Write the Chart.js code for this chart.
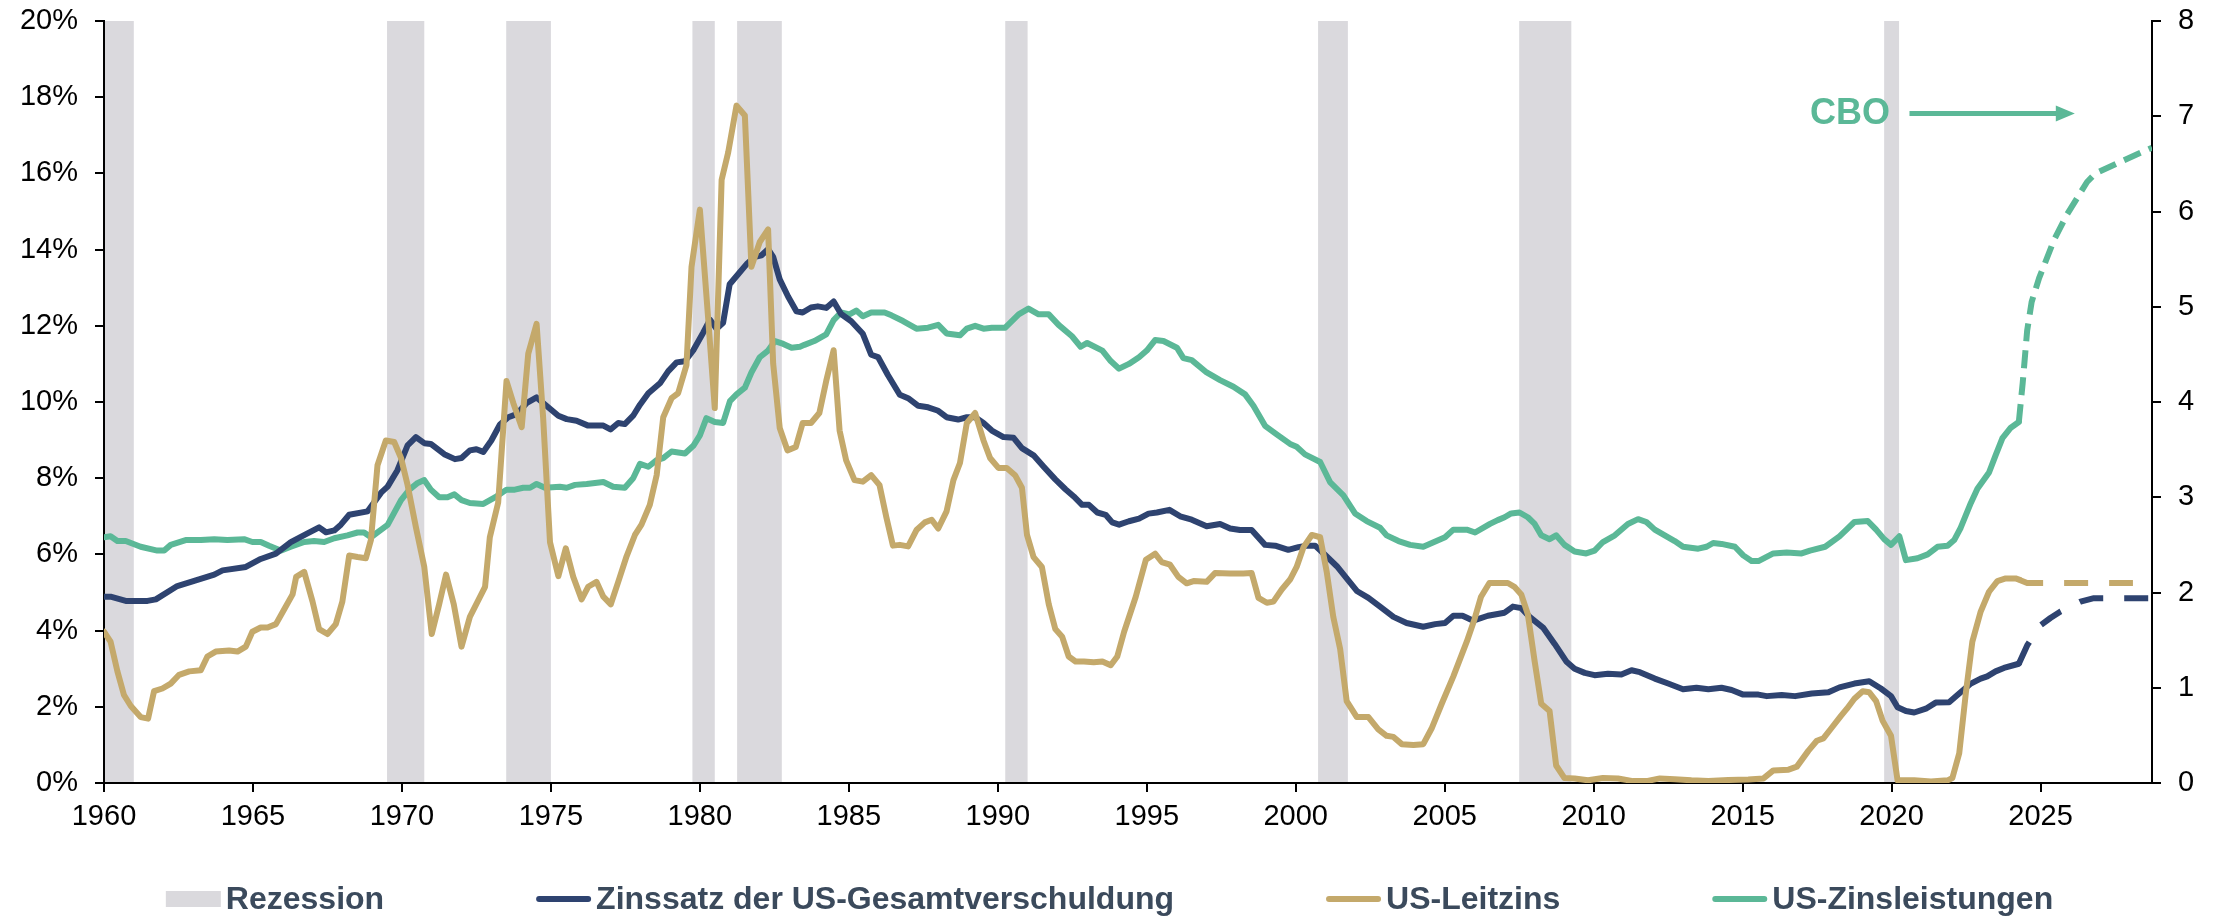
<!DOCTYPE html>
<html>
<head>
<meta charset="utf-8">
<script src="https://cdn.jsdelivr.net/npm/chart.js@4"></script>
<style>
html,body{margin:0;padding:0;background:#fff;}
#wrap{width:2219px;height:917px;position:relative;}
</style>
</head>
<body>
<div id="wrap"><canvas id="c" width="2219" height="917"></canvas></div>
<script>
// ---------- DATA ----------
const xTickYears = [1960,1965,1970,1975,1980,1985,1990,1995,2000,2005,2010,2015,2020,2025];

const recessionStart = [1960.00,1969.50,1973.50,1979.75,1981.25,1990.25,2000.75,2007.50,2019.75];
const recessionEnd   = [1961.00,1970.75,1975.00,1980.50,1982.75,1991.00,2001.75,2009.25,2020.25];

// Zinssatz der US-Gesamtverschuldung (%, left axis) [year, value]
const debtRateHist = [[1960.00,4.89],[1960.22,4.89],[1960.73,4.78],[1961.46,4.78],[1961.74,4.82],[1962.46,5.17],[1963.00,5.30],[1963.70,5.47],[1963.98,5.58],[1964.76,5.67],[1965.26,5.88],[1965.77,6.02],[1966.27,6.32],[1966.83,6.55],[1967.22,6.71],[1967.45,6.58],[1967.73,6.63],[1967.95,6.78],[1968.23,7.04],[1968.85,7.13],[1969.30,7.62],[1969.52,7.78],[1969.85,8.21],[1970.19,8.86],[1970.47,9.08],[1970.75,8.92],[1970.97,8.90],[1971.42,8.63],[1971.78,8.50],[1972.00,8.53],[1972.28,8.73],[1972.50,8.76],[1972.73,8.69],[1973.00,8.99],[1973.29,9.41],[1973.57,9.60],[1973.85,9.68],[1974.18,9.97],[1974.52,10.12],[1974.85,9.90],[1975.25,9.64],[1975.53,9.55],[1975.86,9.51],[1976.25,9.38],[1976.53,9.38],[1976.76,9.38],[1977.00,9.28],[1977.26,9.45],[1977.48,9.42],[1977.76,9.64],[1977.99,9.93],[1978.27,10.23],[1978.66,10.49],[1978.94,10.81],[1979.22,11.04],[1979.50,11.07],[1979.78,11.36],[1980.11,11.82],[1980.34,12.16],[1980.56,11.92],[1980.78,12.08],[1981.00,13.09],[1981.29,13.36],[1981.57,13.62],[1981.85,13.81],[1982.07,13.85],[1982.29,14.01],[1982.46,13.81],[1982.68,13.22],[1982.96,12.77],[1983.24,12.38],[1983.45,12.35],[1983.73,12.48],[1983.96,12.51],[1984.24,12.47],[1984.49,12.64],[1984.74,12.31],[1985.08,12.12],[1985.47,11.79],[1985.75,11.24],[1985.98,11.18],[1986.31,10.71],[1986.71,10.19],[1986.99,10.10],[1987.33,9.90],[1987.66,9.86],[1988.00,9.77],[1988.28,9.60],[1988.67,9.54],[1988.96,9.60],[1989.24,9.60],[1989.52,9.45],[1989.80,9.25],[1990.19,9.08],[1990.53,9.06],[1990.81,8.79],[1991.20,8.60],[1991.54,8.30],[1991.93,7.97],[1992.27,7.71],[1992.55,7.52],[1992.83,7.30],[1993.06,7.30],[1993.34,7.10],[1993.62,7.04],[1993.84,6.84],[1994.07,6.78],[1994.40,6.87],[1994.74,6.94],[1995.06,7.07],[1995.34,7.10],[1995.76,7.17],[1996.12,7.00],[1996.51,6.91],[1997.01,6.74],[1997.46,6.80],[1997.80,6.68],[1998.13,6.64],[1998.52,6.64],[1998.97,6.25],[1999.31,6.23],[1999.75,6.12],[2000.09,6.19],[2000.37,6.23],[2000.65,6.23],[2000.98,5.99],[2001.38,5.69],[2001.71,5.37],[2002.05,5.04],[2002.44,4.86],[2002.83,4.63],[2003.28,4.36],[2003.72,4.20],[2004.28,4.10],[2004.68,4.17],[2005.01,4.20],[2005.29,4.39],[2005.60,4.39],[2005.96,4.26],[2006.45,4.39],[2007.01,4.47],[2007.29,4.63],[2007.57,4.59],[2007.85,4.36],[2008.30,4.08],[2008.69,3.65],[2009.08,3.19],[2009.36,3.00],[2009.70,2.89],[2010.03,2.83],[2010.48,2.87],[2010.93,2.85],[2011.27,2.96],[2011.55,2.91],[2012.05,2.74],[2012.50,2.61],[2013.00,2.46],[2013.45,2.50],[2013.85,2.46],[2014.29,2.50],[2014.63,2.44],[2015.02,2.32],[2015.53,2.32],[2015.81,2.28],[2016.31,2.31],[2016.76,2.28],[2017.32,2.35],[2017.88,2.38],[2018.25,2.51],[2018.75,2.61],[2019.25,2.67],[2019.64,2.48],[2019.98,2.28],[2020.20,1.99],[2020.48,1.89],[2020.76,1.85],[2021.15,1.95],[2021.48,2.11],[2021.93,2.12],[2022.21,2.31],[2022.66,2.61],[2022.99,2.74],[2023.21,2.80],[2023.49,2.93],[2023.77,3.02],[2024.27,3.13]];
const debtRateForecast = [[2024.27,3.13],[2024.55,3.61],[2025.00,4.14],[2025.33,4.33],[2025.67,4.50],[2026.34,4.76],[2026.79,4.85],[2028.74,4.85]];

// US-Leitzins (%, left axis)
const policyRateHist = [[1960.00,3.97],[1960.22,3.71],[1960.45,2.93],[1960.67,2.31],[1960.90,2.02],[1961.23,1.73],[1961.48,1.69],[1961.68,2.41],[1961.96,2.48],[1962.24,2.61],[1962.52,2.84],[1962.86,2.93],[1963.25,2.96],[1963.47,3.32],[1963.75,3.45],[1964.20,3.48],[1964.48,3.45],[1964.76,3.58],[1964.98,3.97],[1965.26,4.08],[1965.49,4.08],[1965.77,4.17],[1966.05,4.56],[1966.33,4.95],[1966.45,5.41],[1966.72,5.54],[1967.00,4.76],[1967.22,4.04],[1967.50,3.91],[1967.78,4.17],[1968.00,4.76],[1968.23,5.97],[1968.51,5.93],[1968.79,5.90],[1968.96,6.38],[1969.18,8.34],[1969.46,8.99],[1969.74,8.95],[1969.97,8.53],[1970.19,7.82],[1970.47,6.71],[1970.75,5.67],[1971.00,3.91],[1971.25,4.69],[1971.48,5.47],[1971.74,4.69],[1972.00,3.58],[1972.28,4.36],[1972.79,5.15],[1972.95,6.45],[1973.23,7.36],[1973.51,10.55],[1973.74,9.97],[1974.02,9.34],[1974.24,11.27],[1974.52,12.05],[1974.74,9.58],[1974.97,6.32],[1975.25,5.43],[1975.50,6.16],[1975.75,5.41],[1976.03,4.82],[1976.25,5.15],[1976.53,5.28],[1976.76,4.89],[1977.01,4.69],[1977.26,5.28],[1977.54,5.95],[1977.82,6.51],[1978.04,6.78],[1978.32,7.30],[1978.55,8.08],[1978.77,9.60],[1979.05,10.10],[1979.27,10.23],[1979.55,10.97],[1979.72,13.55],[1980.00,15.05],[1980.28,12.18],[1980.50,9.84],[1980.73,15.83],[1980.95,16.55],[1981.23,17.78],[1981.51,17.52],[1981.73,13.55],[1982.01,14.20],[1982.29,14.53],[1982.46,11.01],[1982.68,9.32],[1982.94,8.73],[1983.22,8.82],[1983.45,9.45],[1983.73,9.45],[1984.01,9.71],[1984.24,10.55],[1984.49,11.36],[1984.69,9.25],[1984.91,8.47],[1985.19,7.95],[1985.47,7.91],[1985.75,8.08],[1986.03,7.82],[1986.26,6.97],[1986.48,6.23],[1986.71,6.25],[1986.99,6.21],[1987.27,6.64],[1987.55,6.84],[1987.78,6.91],[1988.00,6.68],[1988.28,7.13],[1988.51,7.95],[1988.73,8.40],[1988.96,9.45],[1989.24,9.71],[1989.52,8.99],[1989.74,8.53],[1990.02,8.27],[1990.30,8.27],[1990.58,8.08],[1990.81,7.75],[1990.98,6.51],[1991.20,5.93],[1991.48,5.67],[1991.71,4.69],[1991.93,4.04],[1992.16,3.84],[1992.38,3.32],[1992.61,3.19],[1992.89,3.19],[1993.22,3.17],[1993.51,3.19],[1993.79,3.09],[1994.01,3.32],[1994.24,3.97],[1994.63,4.89],[1994.97,5.86],[1995.28,6.02],[1995.50,5.80],[1995.78,5.73],[1996.06,5.41],[1996.34,5.24],[1996.57,5.30],[1997.01,5.28],[1997.29,5.51],[1997.80,5.50],[1998.24,5.50],[1998.52,5.51],[1998.75,4.86],[1999.03,4.73],[1999.25,4.76],[1999.53,5.08],[1999.81,5.34],[2000.03,5.67],[2000.26,6.19],[2000.54,6.51],[2000.82,6.45],[2001.04,5.54],[2001.26,4.36],[2001.49,3.52],[2001.71,2.15],[2002.05,1.73],[2002.44,1.73],[2002.77,1.41],[2003.05,1.24],[2003.28,1.21],[2003.56,1.02],[2003.95,1.00],[2004.28,1.02],[2004.56,1.43],[2004.90,2.08],[2005.29,2.80],[2005.74,3.71],[2006.00,4.30],[2006.22,4.89],[2006.50,5.25],[2007.12,5.25],[2007.34,5.15],[2007.57,4.95],[2007.79,4.43],[2008.02,3.19],[2008.24,2.08],[2008.52,1.89],[2008.74,0.46],[2009.02,0.13],[2009.36,0.12],[2009.81,0.07],[2010.31,0.13],[2010.82,0.12],[2011.32,0.05],[2011.77,0.05],[2012.22,0.12],[2012.72,0.10],[2013.28,0.07],[2013.85,0.05],[2014.52,0.08],[2015.19,0.09],[2015.70,0.12],[2016.03,0.33],[2016.54,0.35],[2016.82,0.43],[2017.21,0.85],[2017.49,1.11],[2017.71,1.17],[2017.97,1.43],[2018.30,1.76],[2018.50,1.95],[2018.75,2.21],[2019.03,2.41],[2019.25,2.38],[2019.48,2.15],[2019.70,1.63],[2019.98,1.24],[2020.20,0.07],[2020.76,0.07],[2021.32,0.04],[2021.88,0.07],[2022.04,0.13],[2022.27,0.78],[2022.49,2.35],[2022.71,3.71],[2022.99,4.50],[2023.27,5.02],[2023.55,5.30],[2023.83,5.37],[2024.16,5.37],[2024.30,5.33]];
const policyRateForecast = [[2024.30,5.33],[2024.55,5.25],[2028.10,5.25]];

// US-Zinsleistungen (right axis)
const interestHist = [[1960.00,2.58],[1960.22,2.59],[1960.45,2.54],[1960.73,2.54],[1961.23,2.48],[1961.79,2.44],[1962.02,2.44],[1962.24,2.50],[1962.74,2.55],[1963.25,2.55],[1963.70,2.56],[1964.14,2.55],[1964.70,2.56],[1964.98,2.53],[1965.26,2.53],[1965.54,2.49],[1965.93,2.44],[1966.27,2.48],[1966.72,2.53],[1967.05,2.54],[1967.39,2.53],[1967.73,2.57],[1968.17,2.60],[1968.51,2.63],[1968.73,2.63],[1968.96,2.58],[1969.52,2.71],[1969.97,2.97],[1970.25,3.08],[1970.53,3.15],[1970.75,3.18],[1970.97,3.08],[1971.25,3.00],[1971.53,3.00],[1971.76,3.03],[1972.00,2.97],[1972.28,2.94],[1972.73,2.93],[1973.18,3.01],[1973.51,3.08],[1973.79,3.08],[1974.07,3.10],[1974.30,3.10],[1974.52,3.14],[1974.80,3.10],[1975.30,3.11],[1975.53,3.10],[1975.81,3.13],[1976.20,3.14],[1976.76,3.16],[1977.09,3.11],[1977.48,3.10],[1977.76,3.20],[1977.99,3.35],[1978.27,3.32],[1978.55,3.39],[1978.77,3.41],[1979.05,3.48],[1979.50,3.46],[1979.78,3.54],[1980.00,3.65],[1980.22,3.83],[1980.50,3.79],[1980.78,3.78],[1981.01,4.01],[1981.23,4.08],[1981.51,4.15],[1981.73,4.31],[1982.01,4.47],[1982.29,4.54],[1982.52,4.64],[1982.80,4.61],[1983.08,4.57],[1983.36,4.58],[1983.51,4.60],[1983.84,4.64],[1984.24,4.71],[1984.49,4.86],[1984.74,4.94],[1985.02,4.92],[1985.25,4.96],[1985.47,4.90],[1985.75,4.94],[1986.20,4.94],[1986.43,4.91],[1986.82,4.85],[1987.27,4.77],[1987.66,4.78],[1988.00,4.81],[1988.28,4.72],[1988.73,4.70],[1988.96,4.77],[1989.24,4.80],[1989.52,4.77],[1989.80,4.78],[1990.25,4.78],[1990.70,4.92],[1991.03,4.98],[1991.37,4.92],[1991.71,4.92],[1992.04,4.81],[1992.49,4.69],[1992.78,4.58],[1993.00,4.62],[1993.51,4.54],[1993.79,4.43],[1994.07,4.35],[1994.40,4.40],[1994.74,4.47],[1995.00,4.54],[1995.28,4.65],[1995.56,4.64],[1996.01,4.57],[1996.23,4.46],[1996.51,4.44],[1997.01,4.31],[1997.46,4.23],[1997.91,4.16],[1998.30,4.08],[1998.58,3.96],[1998.97,3.75],[1999.36,3.66],[1999.81,3.56],[2000.03,3.53],[2000.31,3.45],[2000.82,3.37],[2001.15,3.16],[2001.60,3.02],[2001.99,2.83],[2002.38,2.75],[2002.83,2.68],[2003.05,2.60],[2003.45,2.54],[2003.84,2.50],[2004.28,2.48],[2005.01,2.58],[2005.29,2.66],[2005.74,2.66],[2006.02,2.63],[2006.52,2.72],[2006.78,2.76],[2007.01,2.79],[2007.23,2.83],[2007.51,2.84],[2007.79,2.79],[2008.02,2.72],[2008.24,2.60],[2008.52,2.56],[2008.74,2.60],[2009.02,2.50],[2009.36,2.43],[2009.75,2.41],[2010.03,2.44],[2010.31,2.53],[2010.71,2.60],[2011.15,2.72],[2011.49,2.77],[2011.77,2.74],[2012.05,2.66],[2012.72,2.54],[2013.00,2.48],[2013.51,2.46],[2013.79,2.48],[2014.01,2.52],[2014.29,2.51],[2014.74,2.48],[2015.02,2.39],[2015.30,2.33],[2015.53,2.33],[2016.03,2.41],[2016.48,2.42],[2016.98,2.41],[2017.26,2.44],[2017.77,2.48],[2018.25,2.59],[2018.75,2.74],[2019.20,2.75],[2019.48,2.66],[2019.75,2.56],[2019.98,2.50],[2020.26,2.59],[2020.48,2.34],[2020.87,2.36],[2021.21,2.40],[2021.54,2.48],[2021.88,2.49],[2022.10,2.55],[2022.32,2.68],[2022.66,2.94],[2022.88,3.09],[2023.27,3.26],[2023.49,3.44],[2023.72,3.62],[2024.00,3.73],[2024.27,3.79]];
const interestForecast = [[2024.27,3.79],[2024.40,4.20],[2024.55,4.75],[2024.70,5.05],[2024.95,5.30],[2025.45,5.70],[2025.89,5.97],[2026.56,6.31],[2026.84,6.40],[2027.60,6.51],[2028.74,6.67]];

const legendLabels = ['Rezession','Zinssatz der US-Gesamtverschuldung','US-Leitzins','US-Zinsleistungen'];
const cboText = 'CBO';

// ---------- STYLE ----------
const C = {
  navy: '#2e4370',
  gold: '#c4a96b',
  teal: '#5bb897',
  band: '#dad9dd',
  legendText: '#3b4a5c',
  axis: '#000000'
};
const FONT = '"Liberation Sans", Arial, Helvetica, sans-serif';
const toXY = arr => arr.map(p => ({x: p[0], y: p[1]}));

// CBO annotation anchor (data coordinates)
const cboAnchor = {textX: 2018.6, arrowFrom: 2020.6, arrowTo: 2026.15, y: 7.03};

const bandsPlugin = {
  id: 'recessionBands',
  beforeDraw(chart) {
    const {ctx, chartArea, scales} = chart;
    ctx.save();
    ctx.fillStyle = C.band;
    recessionStart.forEach((s, i) => {
      const x1 = scales.x.getPixelForValue(s);
      const x2 = scales.x.getPixelForValue(recessionEnd[i]);
      ctx.fillRect(x1, chartArea.top, x2 - x1, chartArea.bottom - chartArea.top);
    });
    ctx.restore();
  }
};

const cboPlugin = {
  id: 'cbo',
  afterDatasetsDraw(chart) {
    const {ctx, scales} = chart;
    const y = scales.y2.getPixelForValue(cboAnchor.y);
    const tx = scales.x.getPixelForValue(cboAnchor.textX);
    const x1 = scales.x.getPixelForValue(cboAnchor.arrowFrom);
    const x2 = scales.x.getPixelForValue(cboAnchor.arrowTo);
    ctx.save();
    ctx.fillStyle = C.teal;
    ctx.strokeStyle = C.teal;
    ctx.font = 'bold 36px ' + FONT;
    ctx.textAlign = 'center';
    ctx.textBaseline = 'middle';
    ctx.fillText(cboText, tx, y + 1);
    ctx.lineWidth = 5;
    ctx.beginPath();
    ctx.moveTo(x1, y);
    ctx.lineTo(x2 - 16, y);
    ctx.stroke();
    ctx.beginPath();
    ctx.moveTo(x2, y);
    ctx.lineTo(x2 - 19, y - 8);
    ctx.lineTo(x2 - 19, y + 8);
    ctx.closePath();
    ctx.fill();
    ctx.restore();
  }
};

const legendPlugin = {
  id: 'customLegend',
  afterDraw(chart) {
    const {ctx, width} = chart;
    const items = [
      {type: 'box', color: C.band, text: legendLabels[0]},
      {type: 'line', color: C.navy, text: legendLabels[1]},
      {type: 'line', color: C.gold, text: legendLabels[2]},
      {type: 'line', color: C.teal, text: legendLabels[3]}
    ];
    const sample = 55, gap = 5, between = 152, baseline = 909, midY = 899;
    ctx.save();
    ctx.font = 'bold 32px ' + FONT;
    const widths = items.map(it => ctx.measureText(it.text).width);
    const total = widths.reduce((a, w) => a + sample + gap + w, 0) + between * (items.length - 1);
    let x = (width - total) / 2;
    items.forEach((it, i) => {
      if (it.type === 'box') {
        ctx.fillStyle = it.color;
        ctx.fillRect(x, midY - 8, sample, 16);
      } else {
        ctx.strokeStyle = it.color;
        ctx.lineWidth = 6;
        ctx.lineCap = 'round';
        ctx.beginPath();
        ctx.moveTo(x + 3, midY);
        ctx.lineTo(x + sample - 3, midY);
        ctx.stroke();
      }
      ctx.fillStyle = C.legendText;
      ctx.textAlign = 'left';
      ctx.textBaseline = 'alphabetic';
      ctx.fillText(it.text, x + sample + gap, baseline);
      x += sample + gap + widths[i] + between;
    });
    ctx.restore();
  }
};

const lineDs = (label, data, color, axis, dashed, dash) => ({
  label,
  data: toXY(data),
  borderColor: color,
  backgroundColor: color,
  borderWidth: 6,
  borderDash: dashed ? dash : [],
  borderCapStyle: dashed ? 'butt' : 'round',
  borderJoinStyle: 'round',
  pointRadius: 0,
  tension: 0,
  fill: false,
  yAxisID: axis
});

const tickFont = {family: FONT, size: 29};
const noVPad = s => { s.paddingTop = 0; s.paddingBottom = 0; };

new Chart(document.getElementById('c'), {
  type: 'line',
  data: {
    datasets: [
      lineDs(legendLabels[2], policyRateHist, C.gold, 'y', false),
      lineDs(legendLabels[2] + ' (Prognose)', policyRateForecast, C.gold, 'y', true, [24, 21]),
      lineDs(legendLabels[1], debtRateHist, C.navy, 'y', false),
      lineDs(legendLabels[1] + ' (Prognose)', debtRateForecast, C.navy, 'y', true, [24, 21]),
      lineDs(legendLabels[3], interestHist, C.teal, 'y2', false),
      lineDs(legendLabels[3] + ' (CBO)', interestForecast, C.teal, 'y2', true, [18, 9])
    ]
  },
  options: {
    responsive: false,
    devicePixelRatio: 1,
    animation: false,
    layout: {padding: {top: 21, bottom: 74, left: 0, right: 0}},
    plugins: {legend: {display: false}, tooltip: {enabled: false}},
    scales: {
      x: {
        type: 'linear',
        min: 1960,
        max: 2028.74,
        afterFit(s) { s.height = 60; },
        afterBuildTicks(s) { s.ticks = xTickYears.map(v => ({value: v})); },
        ticks: {
          stepSize: 5,
          includeBounds: false,
          autoSkip: false,
          maxRotation: 0,
          padding: 8,
          color: '#000',
          font: tickFont,
          callback: v => String(v)
        },
        grid: {drawOnChartArea: false, drawTicks: true, tickLength: 9, color: C.axis, lineWidth: 2},
        border: {display: true, color: C.axis, width: 2}
      },
      y: {
        position: 'left',
        min: 0,
        max: 20,
        afterFit(s) { s.width = 104; noVPad(s); },
        ticks: {stepSize: 2, padding: 17, color: '#000', font: tickFont, callback: v => v + '%'},
        grid: {drawOnChartArea: false, drawTicks: true, tickLength: 9, color: C.axis, lineWidth: 2},
        border: {display: true, color: C.axis, width: 2}
      },
      y2: {
        position: 'right',
        min: 0,
        max: 8,
        afterFit(s) { s.width = 67; noVPad(s); },
        ticks: {stepSize: 1, padding: 17, color: '#000', font: tickFont, callback: v => String(v)},
        grid: {drawOnChartArea: false, drawTicks: true, tickLength: 9, color: C.axis, lineWidth: 2},
        border: {display: true, color: C.axis, width: 2}
      }
    }
  },
  plugins: [bandsPlugin, cboPlugin, legendPlugin]
});
</script>
</body>
</html>
